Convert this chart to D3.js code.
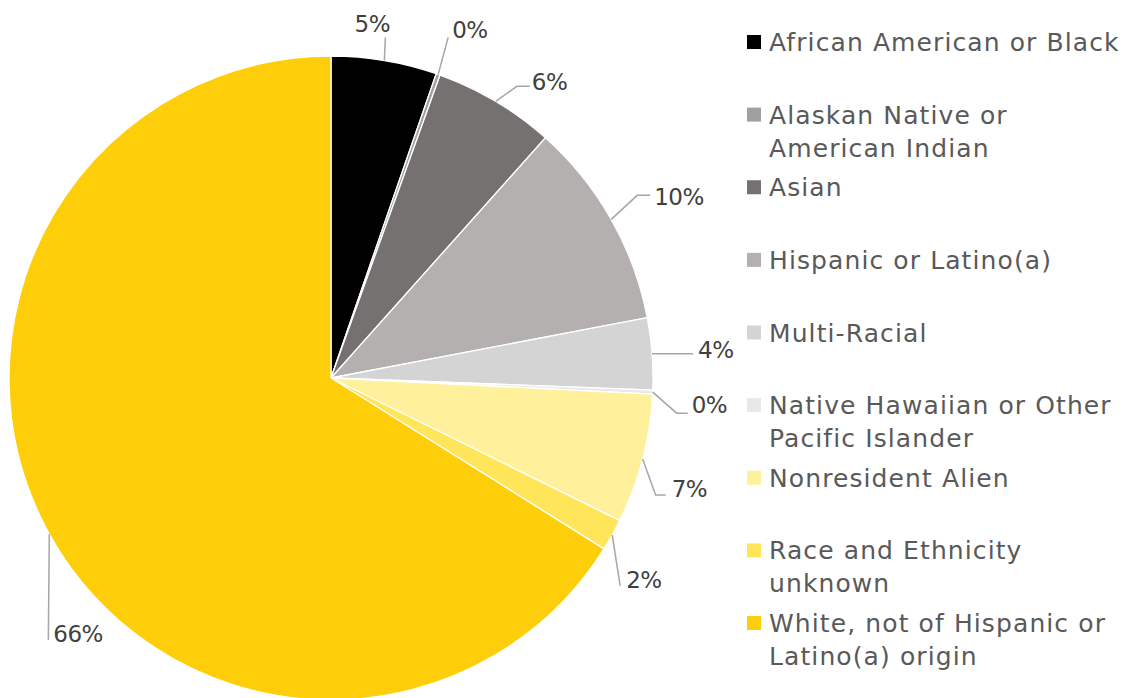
<!DOCTYPE html>
<html>
<head>
<meta charset="utf-8">
<script src="https://cdn.jsdelivr.net/npm/d3@7"></script>
<style>
  body { margin: 0; background: #fff; }
  text { font-family: "DejaVu Sans", sans-serif; fill: #595959; }
</style>
</head>
<body>
<div class="display"></div>
<script>
// Pie of enrolment by race / ethnicity, legend on the right

const WIDTH = 1127;
const HEIGHT = 698;

const categories = [
  ['African American or Black'],
  ['Alaskan Native or', 'American Indian'],
  ['Asian'],
  ['Hispanic or Latino(a)'],
  ['Multi-Racial'],
  ['Native Hawaiian or Other', 'Pacific Islander'],
  ['Nonresident Alien'],
  ['Race and Ethnicity', 'unknown'],
  ['White, not of Hispanic or', 'Latino(a) origin']
];
const shares = [5.3, 0.2, 6.1, 10.4, 3.6, 0.2, 6.5, 1.6, 66.1];
const labels = ['5%', '0%', '6%', '10%', '4%', '0%', '7%', '2%', '66%'];
const colors = ['#000000', '#a0a0a0', '#767171', '#b3b0af', '#d5d4d4', '#e8e8e8', '#fff09c', '#ffe55a', '#ffce0a'];

// leader line bends and label anchors, as offsets from the slice's edge point
const leaders = [
  { pts: [[1, -23]], text: [-12, -28], anchor: 'middle' },
  { pts: [[10, -37]], text: [14, -36], anchor: 'start' },
  { pts: [[21, -15], [34, -15]], text: [36, -11], anchor: 'start' },
  { pts: [[26, -24], [39, -24]], text: [43, -14], anchor: 'start' },
  { pts: [[41, 0]], text: [46, 4], anchor: 'start' },
  { pts: [[24, 21], [35, 21]], text: [39, 21], anchor: 'start' },
  { pts: [[13, 36], [23, 36]], text: [29, 38], anchor: 'start' },
  { pts: [[8, 51]], text: [14, 53], anchor: 'start' },
  { pts: [[-1, 106]], text: [4, 108], anchor: 'start' }
];

const cx = 331, cy = 378, radius = 322;

const svg = d3.select('.display')
  .append('svg')
  .attr('width', WIDTH)
  .attr('height', HEIGHT);

const pie = d3.pie().sort(null).value(d => d)(shares);
const arc = d3.arc().innerRadius(0).outerRadius(radius);

const g = svg.append('g').attr('transform', `translate(${cx},${cy})`);

g.selectAll('path.slice')
  .data(pie)
  .enter()
  .append('path')
  .attr('class', 'slice')
  .attr('d', arc)
  .attr('fill', (d, i) => colors[i])
  .attr('stroke', '#fff')
  .attr('stroke-width', 1.3);

const edgePoint = d => {
  const a = (d.startAngle + d.endAngle) / 2;
  return [radius * Math.sin(a), -radius * Math.cos(a)];
};

pie.forEach((d, i) => {
  const p = edgePoint(d);
  const L = leaders[i];
  const line = [p].concat(L.pts.map(o => [p[0] + o[0], p[1] + o[1]]));
  g.append('path')
    .attr('d', d3.line()(line))
    .attr('fill', 'none')
    .attr('stroke', '#a6a6a6')
    .attr('stroke-width', 1.5);
  g.append('text')
    .attr('x', p[0] + L.text[0])
    .attr('y', p[1] + L.text[1])
    .attr('text-anchor', L.anchor)
    .attr('font-size', 23)
    .attr('letter-spacing', -0.5)
    .style('fill', '#404040')
    .text(labels[i]);
});

// legend
const legendY = d3.scaleLinear().domain([0, categories.length - 1]).range([51, 632]);
const legend = svg.append('g');
categories.forEach((lines, i) => {
  const y = legendY(i);
  legend.append('rect')
    .attr('x', 747)
    .attr('y', y - 16)
    .attr('width', 14)
    .attr('height', 14)
    .attr('fill', colors[i]);
  lines.forEach((t, j) => {
    legend.append('text')
      .attr('x', 769)
      .attr('y', y + j * 33)
      .attr('font-size', 25)
      .attr('letter-spacing', 1.1)
      .text(t);
  });
});
</script>
</body>
</html>
